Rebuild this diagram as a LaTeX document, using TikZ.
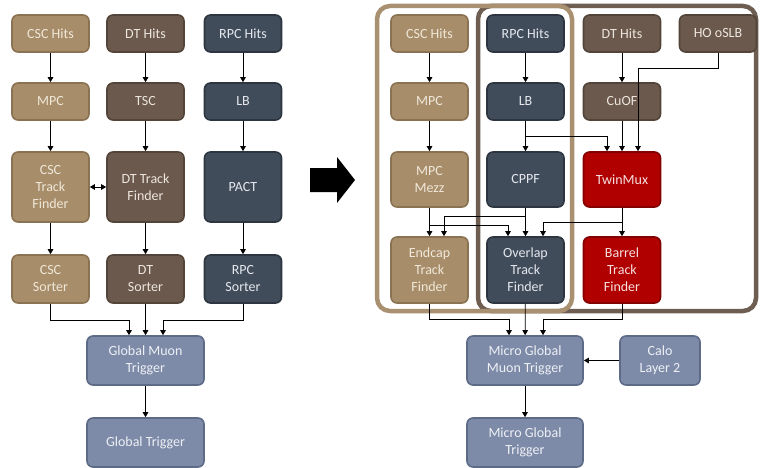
\documentclass[tikz,border=0pt]{standalone}
\usepackage{fontspec}
\setmainfont{Carlito}
\usetikzlibrary{arrows.meta}
\definecolor{tanF}{HTML}{A78D69}
\definecolor{tanD}{HTML}{8A7353}
\definecolor{tanT}{HTML}{F0E8DA}
\definecolor{brnF}{HTML}{6B594D}
\definecolor{brnD}{HTML}{524439}
\definecolor{brnT}{HTML}{EDE6DE}
\definecolor{rpcF}{HTML}{414C5A}
\definecolor{rpcD}{HTML}{2C3540}
\definecolor{rpcT}{HTML}{E4E8EE}
\definecolor{gmtF}{HTML}{7D8BA8}
\definecolor{gmtD}{HTML}{5E6B86}
\definecolor{gmtT}{HTML}{EEF0F5}
\definecolor{redF}{HTML}{B00000}
\definecolor{redD}{HTML}{820000}
\definecolor{redT}{HTML}{F6E0E0}
\definecolor{tanFrame}{HTML}{A89070}
\definecolor{brnFrame}{HTML}{6E5E52}
\tikzset{
  box/.style={rounded corners=6pt, line width=1.6pt, minimum width=77pt, inner sep=0pt,
    align=center, font=\fontsize{14}{17}\selectfont},
  tanbox/.style={box, fill=tanF, draw=tanD, text=tanT},
  brnbox/.style={box, fill=brnF, draw=brnD, text=brnT},
  rpcbox/.style={box, fill=rpcF, draw=rpcD, text=rpcT},
  gmtbox/.style={box, fill=gmtF, draw=gmtD, text=gmtT},
  redbox/.style={box, fill=redF, draw=redD, text=redT},
  hA/.style={minimum height=37pt},
  hB/.style={minimum height=70pt},
  hC/.style={minimum height=48pt},
  hD/.style={minimum height=55pt},
  hE/.style={minimum height=66pt},
  hF/.style={minimum height=49pt},
  arr/.style={draw=black, line width=0.8pt, -{Triangle[length=5pt,width=5.5pt]}},
  frame/.style={rounded corners=13pt, line width=4.5pt},
}
\begin{document}
\begin{tikzpicture}[x=1pt,y=-1pt]
\useasboundingbox (0,0) rectangle (760,468);
% ---------- left diagram ----------
\node[tanbox,hA] (lcsch) at (50.5,33.5) {CSC Hits};
\node[brnbox,hA] (ldth) at (145.5,33.5) {DT Hits};
\node[rpcbox,hA] (lrpch) at (243,33.5) {RPC Hits};
\node[tanbox,hA] (lmpc) at (50.5,101.5) {MPC};
\node[brnbox,hA] (ltsc) at (145.5,101.5) {TSC};
\node[rpcbox,hA] (llb) at (243,101.5) {LB};
\node[tanbox,hB] (lcsctf) at (50.5,187) {CSC\\Track\\Finder};
\node[brnbox,hB] (ldttf) at (145.5,187) {DT Track\\Finder};
\node[rpcbox,hB] (lpact) at (243,187) {PACT};
\node[tanbox,hC] (lcscs) at (50.5,279) {CSC\\Sorter};
\node[brnbox,hC] (ldts) at (145.5,279) {DT\\Sorter};
\node[rpcbox,hC] (lrpcs) at (243,279) {RPC\\Sorter};
\node[gmtbox,hF,minimum width=117pt] (lgmt) at (145.5,360.5) {Global Muon\\Trigger};
\node[gmtbox,hF,minimum width=117pt] (lgt) at (145.5,442.5) {Global Trigger};
\draw[arr] (lcsch) -- (lmpc);
\draw[arr] (ldth) -- (ltsc);
\draw[arr] (lrpch) -- (llb);
\draw[arr] (lmpc) -- (lcsctf);
\draw[arr] (ltsc) -- (ldttf);
\draw[arr] (llb) -- (lpact);
\draw[draw=black, line width=0.8pt, {Triangle[length=5pt,width=5.5pt]}-{Triangle[length=5pt,width=5.5pt]}] (lcsctf.east) -- (ldttf.west);
\draw[arr] (lcsctf) -- (lcscs);
\draw[arr] (ldttf) -- (ldts);
\draw[arr] (lpact) -- (lrpcs);
\draw[arr] (lcscs.south) -- ++(0,17) -| ([xshift=-16.5pt]lgmt.north);
\draw[arr] (ldts) -- (lgmt);
\draw[arr] (lrpcs.south) -- ++(0,17) -| ([xshift=17.5pt]lgmt.north);
\draw[arr] (lgmt) -- (lgt);
% ---------- big arrow ----------
\fill[black] (310,168) -- (337,168) -- (337,157) -- (355,180) -- (337,203) -- (337,192) -- (310,192) -- cycle;
% ---------- frames ----------
\draw[frame, draw=brnFrame] (478,6) rectangle (756,311);
\draw[frame, draw=tanFrame] (377,6) rectangle (572,311);
% ---------- right diagram ----------
\node[tanbox,hA] (rcsch) at (429.5,33.5) {CSC Hits};
\node[rpcbox,hA] (rrpch) at (525.5,33.5) {RPC Hits};
\node[brnbox,hA] (rdth) at (622,33.5) {DT Hits};
\node[brnbox,hA] (rho) at (718,33.5) {HO oSLB};
\node[tanbox,hA] (rmpc) at (429.5,101.5) {MPC};
\node[rpcbox,hA] (rlb) at (525.5,101.5) {LB};
\node[brnbox,hA] (rcuof) at (622,101.5) {CuOF};
\node[tanbox,hD] (rmezz) at (429.5,179.5) {MPC\\Mezz};
\node[rpcbox,hD] (rcppf) at (525.5,179.5) {CPPF};
\node[redbox,hD] (rtwin) at (622,179.5) {TwinMux};
\node[tanbox,hE] (retf) at (429.5,270) {Endcap\\Track\\Finder};
\node[rpcbox,hE] (rotf) at (525.5,270) {Overlap\\Track\\Finder};
\node[redbox,hE] (rbtf) at (622,270) {Barrel\\Track\\Finder};
\node[gmtbox,hF,minimum width=116pt] (rmgmt) at (525,360.5) {Micro Global\\Muon Trigger};
\node[gmtbox,hF,minimum width=80pt] (rcalo) at (660,360.5) {Calo\\Layer 2};
\node[gmtbox,hF,minimum width=116pt] (rmgt) at (525,442.5) {Micro Global\\Trigger};
\draw[arr] (rcsch) -- (rmpc);
\draw[arr] (rrpch) -- (rlb);
\draw[arr] (rdth) -- (rcuof);
\draw[arr] (rmpc) -- (rmezz);
\draw[arr] (rlb) -- (rcppf);
\draw[arr] (rlb.south) -- ++(0,16) -| ([xshift=-15pt]rtwin.north);
\draw[arr] (rcuof) -- (rtwin);
\draw[arr] (rho.south) -- ++(0,16) -| ([xshift=16pt]rtwin.north);
\draw[arr] (rmezz) -- (retf);
\draw[arr] (rmezz.south) -- ++(0,18) -| ([xshift=-17.5pt]rotf.north);
\draw[arr] (rcppf) -- (rotf);
\draw[arr] (rcppf.south) -- ++(0,9) -| ([xshift=14.5pt]retf.north);
\draw[arr] (rtwin) -- (rbtf);
\draw[arr] (rtwin.south) -- ++(0,15) -| ([xshift=17.5pt]rotf.north);
\draw[arr] (retf.south) -- ++(0,16) -| ([xshift=-16pt]rmgmt.north);
\draw[arr] (rotf) -- (rmgmt);
\draw[arr] (rbtf.south) -- ++(0,16) -| ([xshift=18pt]rmgmt.north);
\draw[arr] (rcalo) -- (rmgmt);
\draw[arr] (rmgmt) -- (rmgt);
\end{tikzpicture}
\end{document}
